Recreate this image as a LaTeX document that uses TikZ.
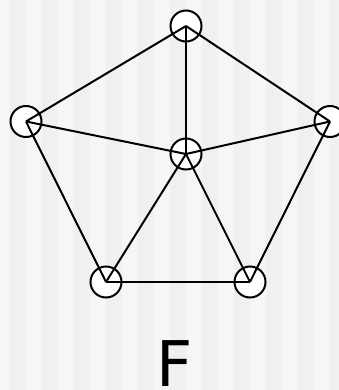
\documentclass[tikz,border=0pt]{standalone}
\usepackage{fontspec}
\setmainfont{DejaVu Sans}
\begin{document}
\begin{tikzpicture}[x=1pt,y=-1pt,
  vtx/.style={circle,draw=black,fill=white,line width=2pt,minimum size=31pt,inner sep=0pt},
  edge/.style={draw=black,line width=2pt}]
\useasboundingbox (0,0) rectangle (339,390);
\fill[black!6] (0,0) rectangle (339,390);
\foreach \k in {0,...,10}{
  \fill[black!3.5] ({-6+32*\k},0) rectangle ({10+32*\k},390);
}
\node[vtx] (t) at (186,26) {};
\node[vtx] (l) at (26,121.5) {};
\node[vtx] (r) at (330,121.5) {};
\node[vtx] (c) at (186,154) {};
\node[vtx] (bl) at (106,282) {};
\node[vtx] (br) at (250,282) {};
\draw[edge] (t.center) -- (l.center);
\draw[edge] (t.center) -- (r.center);
\draw[edge] (t.center) -- (c.center);
\draw[edge] (l.center) -- (c.center);
\draw[edge] (r.center) -- (c.center);
\draw[edge] (l.center) -- (bl.center);
\draw[edge] (r.center) -- (br.center);
\draw[edge] (c.center) -- (bl.center);
\draw[edge] (c.center) -- (br.center);
\draw[edge] (bl.center) -- (br.center);
\node[inner sep=0pt,anchor=base] (lab) at (174.5,386.5) {\fontsize{63}{63}\selectfont F};
\end{tikzpicture}
\end{document}
